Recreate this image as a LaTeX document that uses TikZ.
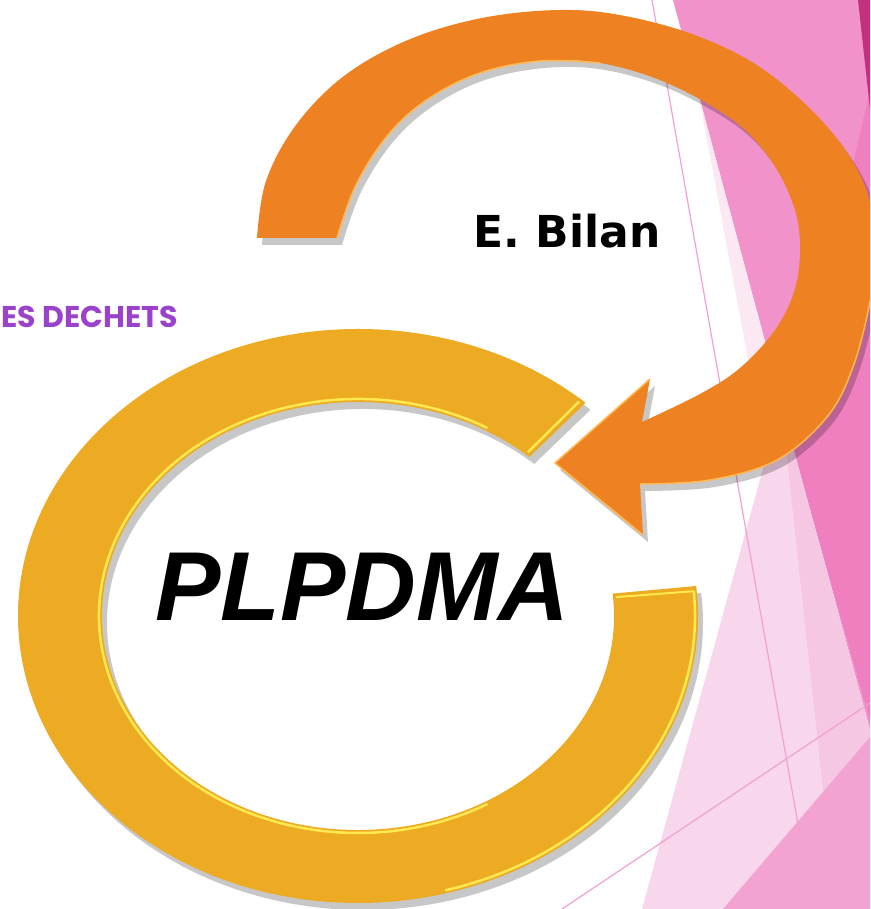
\documentclass[tikz,border=0pt]{standalone}
\usepackage{fontspec}
\usepackage{tikz}
\usetikzlibrary{calc}
\newfontfamily\plfont{Liberation Sans}
\newfontfamily\bilanfont{DejaVu Sans}
\newfontfamily\dechetfont{Poppins}
\definecolor{gold}{RGB}{236, 171, 34}
\definecolor{goldlight}{RGB}{255, 232, 80}
\definecolor{tangerine}{RGB}{238, 129, 34}
\definecolor{tangerinelight}{RGB}{255, 184, 80}
\definecolor{pinkmid}{RGB}{242, 146, 202}
\definecolor{pinkdark}{RGB}{240, 127, 191}
\definecolor{plum}{RGB}{194, 48, 126}
\definecolor{pinkpale}{RGB}{252, 232, 243}
\definecolor{pinklight}{RGB}{248, 214, 235}
\definecolor{pinkband}{RGB}{246, 199, 226}
\definecolor{pinkrose}{RGB}{243, 163, 209}
\definecolor{pinkline}{RGB}{243, 160, 210}
\definecolor{purplet}{RGB}{155, 66, 205}
\newcommand{\ringshape}{(48:340 and 287) arc[start angle=48, end angle=366, x radius=340, y radius=287]
  -- (366:256 and 214) arc[start angle=366, end angle=48, x radius=256, y radius=214] -- cycle}
\newcommand{\arrowshape}{plot[smooth, tension=0.6] coordinates {(257,671) (266,728) (296,784) (344,833)
  (408,869) (482,891) (560,899) (625,893) (700,872) (767,837) (830,779) (866,720) (876,655) (870,607)
  (853,542) (827,492) (777,449) (710,429) (640,425)}
  -- (643,374) -- (555,446) -- (650,530) -- (642,487)
  -- plot[smooth, tension=0.6] coordinates {(642,487) (700,515) (740,541) (775,579) (795,620) (800,665)
  (793,705) (770,750) (733,789) (667,826) (600,846) (540,848) (480,836) (428,810) (388,774)
  (356,724) (337,671)} -- cycle}

\begin{document}
\begin{tikzpicture}[x=1pt, y=1pt]
  \useasboundingbox (0,0) rectangle (870,909);
  \fill[white] (0,0) rectangle (870,909);
  \clip (0,0) rectangle (870,909);

  % facets on the right
  \fill[pinkmid] (673,909) -- (870,909) -- (870,179) -- cycle;
  \fill[pinkdark] (870,819) -- (790,469) -- (870,189) -- cycle;
  \fill[plum] (858,909) -- (870,909) -- (870,800) -- cycle;
  \fill[pinkpale] (698,817) -- (781,506) -- (765,459) -- cycle;
  \fill[pinklight] (781,506) -- (870,179) -- (870,0) -- (642,0) -- cycle;
  \fill[pinkband] (781,506) -- (870,179) -- (870,0) -- (836,0) -- cycle;
  \fill[pinkrose] (723,0) -- (870,172) -- (870,0) -- cycle;
  \draw[pinkline, line width=1.2] (652,909) -- (813,0);
  \draw[pinkline, line width=1.2] (562,0) -- (870,206);

  % yellow ring
  \begin{scope}[shift={(363,286)}]
    \fill[black, opacity=0.22] \ringshape;
  \end{scope}
  \begin{scope}[shift={(358,293)}]
    \fill[gold] \ringshape;
    \draw[goldlight, line width=2.5] (60:259 and 217) arc[start angle=60, end angle=300, x radius=259, y radius=217];
    \draw[goldlight, line width=2.5] (285:337 and 284) arc[start angle=285, end angle=365, x radius=337, y radius=284];
    \draw[goldlight, line width=2.5] (49:259 and 217) -- (49:337 and 284);
    \draw[goldlight, line width=2] (365:337 and 284) -- (365:259 and 217);
  \end{scope}

  % orange arrow
  \begin{scope}[shift={(5,-7)}]
    \fill[black, opacity=0.22] \arrowshape;
  \end{scope}
  \fill[tangerine] \arrowshape;
  \draw[tangerinelight, line width=1.5] plot[smooth, tension=0.6] coordinates {(876,655) (870,607)
    (853,542) (827,492) (777,449) (710,429) (640,425)};
  \draw[tangerinelight, line width=1.5] plot[smooth, tension=0.6] coordinates {(600,846) (540,848)
    (480,836) (428,810) (388,774) (356,724) (337,671)};
  \draw[tangerinelight, line width=1.5] (643,374) -- (555,446) -- (650,530);

  % texts
  \node[anchor=base, inner sep=0pt, font=\plfont\bfseries\itshape\fontsize{98}{98}\selectfont] (plpdma) at (362,288) {PLPDMA};
  \node[anchor=base, inner sep=0pt, font=\bilanfont\bfseries\fontsize{44}{44}\selectfont] (bilan) at (567,661) {E. Bilan};
  \node[anchor=base west, inner sep=0pt, text=purplet, font=\dechetfont\bfseries\fontsize{30}{30}\selectfont] (dechets) at (1,581) {ES DECHETS};
\end{tikzpicture}
\end{document}
